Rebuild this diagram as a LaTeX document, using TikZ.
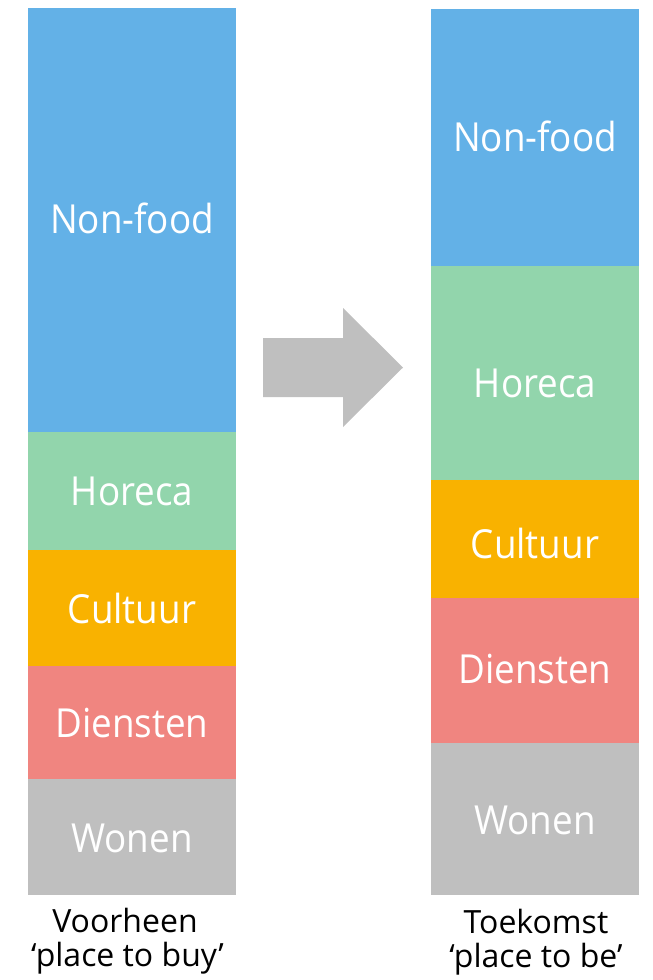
\documentclass[tikz,border=0pt]{standalone}
\usepackage{fontspec}
\setmainfont{Open Sans}
\newfontfamily\smalfont[FakeStretch=0.92]{Open Sans}
\usetikzlibrary{positioning}

\definecolor{nonfood}{HTML}{63B1E7}
\definecolor{horeca}{HTML}{92D5AC}
\definecolor{cultuur}{HTML}{F9B200}
\definecolor{diensten}{HTML}{F08580}
\definecolor{wonen}{HTML}{BFBFBF}

\begin{document}
\begin{tikzpicture}[x=1pt,y=-1pt,
  lbl/.style={text=white,anchor=base,font=\smalfont\fontsize{40}{48}\selectfont},
  onder/.style={text=black,anchor=base,font=\fontsize{32}{34}\selectfont}]
\useasboundingbox (0,0) rectangle (653,980);
% links: voorheen
\fill[nonfood] (28,8) rectangle (236,432);
\fill[horeca] (28,432) rectangle (236,550);
\fill[cultuur] (28,550) rectangle (236,666);
\fill[diensten] (28,666) rectangle (236,779);
\fill[wonen] (28,779) rectangle (236,895);
\node[lbl] (NL) at (132,233) {Non-food};
\node[lbl] (HL) at (132,505) {Horeca};
\node[lbl] (CL) at (132,623) {Cultuur};
\node[lbl] (DL) at (132,737) {Diensten};
\node[lbl] (WL) at (132,852) {Wonen};
% rechts: toekomst
\fill[nonfood] (431,9) rectangle (639,266);
\fill[horeca] (431,266) rectangle (639,480);
\fill[cultuur] (431,480) rectangle (639,598);
\fill[diensten] (431,598) rectangle (639,743);
\fill[wonen] (431,743) rectangle (639,895);
\node[lbl] (NR) at (535,151) {Non-food};
\node[lbl] (HR) at (535,397) {Horeca};
\node[lbl] (CR) at (535,558) {Cultuur};
\node[lbl] (DR) at (535,683) {Diensten};
\node[lbl] (WR) at (535,834) {Wonen};
% pijl
\fill[wonen] (263,338) -- (343,338) -- (343,308) -- (403,367.5) -- (343,427) -- (343,397) -- (263,397) -- cycle;
% onderschriften
\node[onder] (VL) at (125,932) {Voorheen};
\node[onder] (PL) at (127.5,966) {‘place to buy’};
\node[onder] (TR) at (536,933) {Toekomst};
\node[onder] (PR) at (536,967) {‘place to be’};
\end{tikzpicture}
\end{document}
